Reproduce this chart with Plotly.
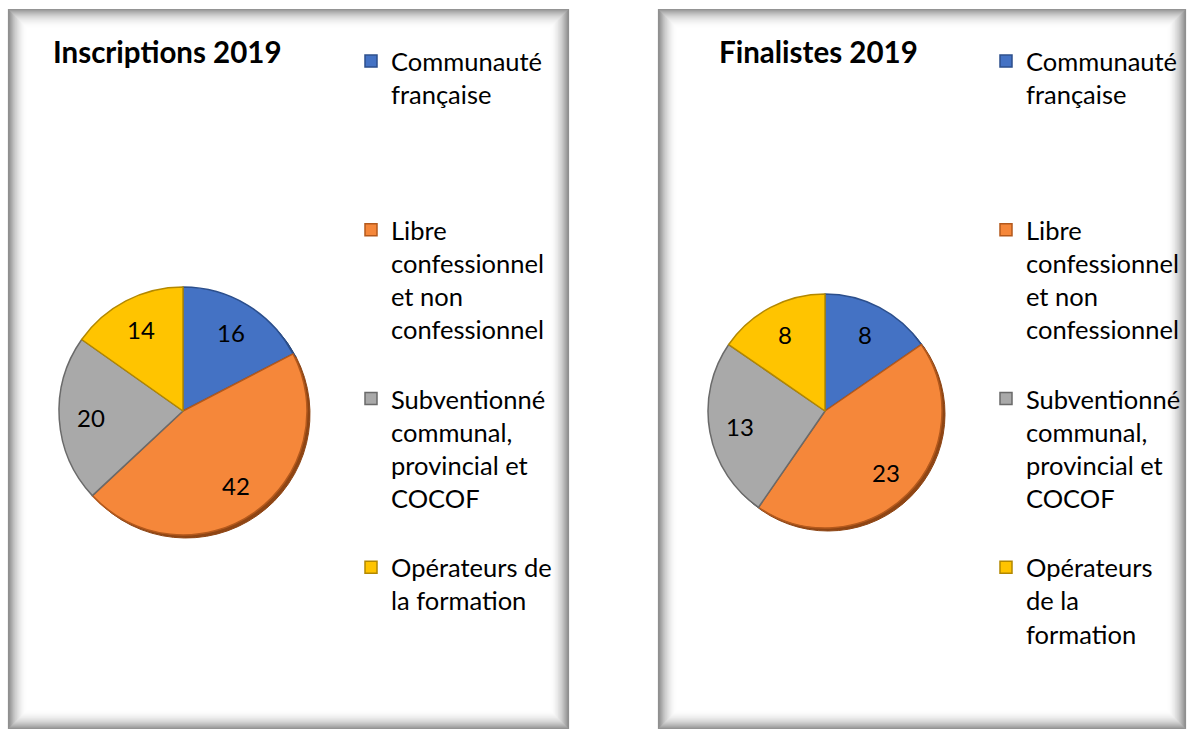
import math
import plotly.graph_objects as go

W, H = 1190, 729

# --- data -----------------------------------------------------------------
categories = [
    "Communauté française",
    "Libre confessionnel et non confessionnel",
    "Subventionné communal, provincial et COCOF",
    "Opérateurs de la formation",
]
inscriptions_2019 = [16, 42, 20, 14]
finalistes_2019 = [8, 23, 13, 8]

# legend labels, wrapped the way each panel shows them
legend_lines_left = [
    ["Communauté", "française"],
    ["Libre", "confessionnel", "et non", "confessionnel"],
    ["Subventionné", "communal,", "provincial et", "COCOF"],
    ["Opérateurs de", "la formation"],
]
legend_lines_right = [
    ["Communauté", "française"],
    ["Libre", "confessionnel", "et non", "confessionnel"],
    ["Subventionné", "communal,", "provincial et", "COCOF"],
    ["Opérateurs", "de la", "formation"],
]

slice_colors = ["#4472C4", "#F5873A", "#A9A9A9", "#FFC400"]
edge_colors = ["#2C4F8C", "#B4591C", "#6A6A6A", "#B38800"]
rim_colors = ["#22406F", "#8E4514", "#555555", "#8C6A00"]

FONT = "Lato"
LEGEND_SIZE = 25.5
SLOT_LINES = 5  # every legend entry occupies the same vertical slot


def legend_label(lines, tag):
    pad = max(0, SLOT_LINES - len(lines))
    # tag keeps the entries of the two legends distinct
    return "<br>".join(lines + ["\u00a0"] * pad) + tag


def px_x(x):
    return x / W


def px_y(y):
    return 1 - y / H


fig = go.Figure()
annotations = []


def add_pie(values, lines, cx, cy, r, legend_name, tag):
    # darker copy, nudged down-right, gives the slices a raised rim
    off = 3
    fig.add_trace(go.Pie(
        labels=[c + tag + "\u200b" for c in categories],
        values=values, sort=False, direction="clockwise", rotation=0,
        marker=dict(colors=rim_colors, line=dict(color=rim_colors, width=1)),
        textinfo="none", hoverinfo="skip", showlegend=False,
        domain=dict(x=[px_x(cx - r + off), px_x(cx + r + off)],
                    y=[px_y(cy + r + off), px_y(cy - r + off)]),
        legend=legend_name,
    ))
    fig.add_trace(go.Pie(
        labels=[legend_label(l, tag) for l in lines],
        values=values, sort=False, direction="clockwise", rotation=0,
        marker=dict(colors=slice_colors, line=dict(color=edge_colors, width=1.5)),
        textinfo="none",
        hovertemplate="%{value} (%{percent})<extra></extra>",
        domain=dict(x=[px_x(cx - r), px_x(cx + r)], y=[px_y(cy + r), px_y(cy - r)]),
        legend=legend_name,
    ))
    # value labels, placed on each slice's bisector
    total = sum(values)
    acc = 0
    for v in values:
        mid = (acc + v / 2) / total * 2 * math.pi
        acc += v
        rr = 0.74 * r
        annotations.append(dict(
            text=str(v), x=px_x(cx + rr * math.sin(mid)), y=px_y(cy - rr * math.cos(mid)),
            xref="paper", yref="paper", xanchor="center", yanchor="middle",
            showarrow=False, font=dict(family=FONT, size=24, color="#000000"),
        ))


add_pie(inscriptions_2019, legend_lines_left, 183, 411, 124, "legend", "")
add_pie(finalistes_2019, legend_lines_right, 825, 411, 117, "legend2", "\u200b")

# --- panels with an inner shadow -----------------------------------------
shapes = []
panels = [(8, 9, 569, 729), (658, 9, 1186, 729)]
N = 20
for (x0, y0, x1, y1) in panels:
    shapes.append(dict(type="rect", xref="paper", yref="paper",
                       x0=px_x(x0), x1=px_x(x1), y0=px_y(y1), y1=px_y(y0),
                       line=dict(width=0), fillcolor="white", layer="below"))
    for i in range(N):
        a = 0.55 * (1 - i / N) ** 2.2
        shapes.append(dict(type="rect", xref="paper", yref="paper",
                           x0=px_x(x0 + i + 0.5), x1=px_x(x1 - i - 0.5),
                           y0=px_y(y1 - i - 0.5), y1=px_y(y0 + i + 0.5),
                           line=dict(width=1.2, color=f"rgba(60,60,60,{a:.3f})"),
                           fillcolor="rgba(0,0,0,0)", layer="below"))

annotations += [
    dict(text="<b>Inscriptions 2019</b>", x=px_x(51), y=px_y(52), xref="paper", yref="paper",
         xanchor="left", yanchor="middle", showarrow=False,
         font=dict(family=FONT, size=29.5, color="#000000")),
    dict(text="<b>Finalistes 2019</b>", x=px_x(717), y=px_y(52), xref="paper", yref="paper",
         xanchor="left", yanchor="middle", showarrow=False,
         font=dict(family=FONT, size=29.5, color="#000000")),
]

legend_style = dict(
    xanchor="left", yanchor="top",
    font=dict(family=FONT, size=LEGEND_SIZE, color="#000000"),
    bgcolor="rgba(0,0,0,0)", borderwidth=0, valign="top",
    traceorder="normal",
)

fig.update_layout(
    width=W, height=H,
    margin=dict(l=0, r=0, t=0, b=0),
    paper_bgcolor="white", plot_bgcolor="white",
    showlegend=True,
    legend=dict(x=px_x(351), y=px_y(38), **legend_style),
    legend2=dict(x=px_x(986), y=px_y(38), **legend_style),
    shapes=shapes,
    annotations=annotations,
)

fig.write_html("out.html")
